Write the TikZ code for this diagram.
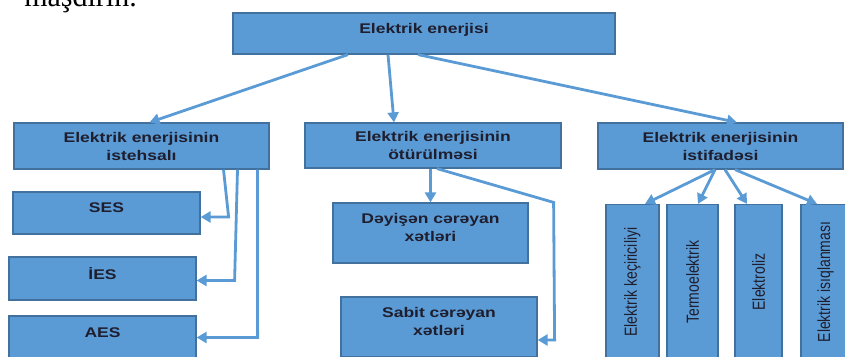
\documentclass[tikz,border=0pt]{standalone}
\usepackage{graphicx}
\usepackage{fontspec}
\setmainfont{Liberation Sans}[FakeStretch=1.25]
\newfontfamily\plainsans{Liberation Sans}
\newfontfamily\pageserif{Liberation Serif}
\usetikzlibrary{arrows.meta,positioning,calc}
\definecolor{boxblue}{HTML}{5B9BD5}
\definecolor{boxedge}{HTML}{41719C}
\definecolor{arrblue}{HTML}{5B9BD5}
\definecolor{txt}{HTML}{1E1E2E}
\tikzset{
    %Define standard arrow tip
    >={Triangle[length=10pt,width=11pt]},
    %Define style for boxes
    box/.style={
           rectangle,
           fill=boxblue,
           draw=boxedge, line width=1.2pt,
           text=txt,
           font=\fontsize{14}{18}\selectfont\bfseries,
           align=center,
           inner sep=0pt},
    smallbox/.style={
           box,
           minimum width=187pt,
           minimum height=43pt,
           text depth=10pt},
    linebox/.style={
           box,
           minimum width=196pt,
           minimum height=60pt,
           text depth=11pt},
    vbox/.style={
           box,
           rotate=90,
           minimum width=155pt,
           font=\plainsans\fontsize{14}{18}\selectfont},
    % Define arrow style
    arr/.style={
           ->,
           draw=arrblue,
           line width=2.8pt},
}

\begin{document}
\begin{tikzpicture}[x=1pt,y=-1pt]
  \useasboundingbox (0,0) rectangle (845,356);
  \clip (0,0) rectangle (845,356);

  % page text cut off at the top
  \node[anchor=base east, inner sep=0pt, text=black,
        font=\pageserif\fontsize{30}{32}\selectfont] (qeyd) at (137,6) {maşdırın.};

  % top level
  \node[box, minimum width=382pt, minimum height=41pt, text depth=11pt] (enerji) at (424,33.5) {Elektrik enerjisi};

  % second level
  \node[box, minimum width=255pt, minimum height=46pt] (istehsal) at (141.5,146) {Elektrik enerjisinin\\istehsalı};
  \node[box, minimum width=256pt, minimum height=45pt] (oturulme) at (433,145.5) {Elektrik enerjisinin\\ötürülməsi};
  \node[box, minimum width=245pt, minimum height=46pt] (istifade) at (720.5,146) {Elektrik enerjisinin\\istifadəsi};

  % production
  \node[smallbox, minimum height=42pt] (ses) at (106.5,213) {SES};
  \node[smallbox] (ies) at (102.5,278.5) {İES};
  \node[smallbox] (aes) at (102.5,337.5) {AES};

  % transmission
  \node[linebox, minimum width=195pt] (deyisen) at (430.5,233) {Dəyişən cərəyan\\xətləri};
  \node[linebox] (sabit) at (439,327) {Sabit cərəyan\\xətləri};

  % use
  \node[vbox, minimum height=53pt] (kecir) at (632.5,282) {\scalebox{1}[1.25]{Elektrik keçiriciliyi}};
  \node[vbox, minimum height=51pt] (termo) at (692.5,282) {\scalebox{1}[1.25]{Termoelektrik}};
  \node[vbox, minimum height=47pt] (elektroliz) at (758.5,282) {\scalebox{1}[1.25]{Elektroliz}};
  \node[vbox, minimum height=49pt] (isiq) at (825.5,282) {\scalebox{1}[1.25]{Elektrik isıqlanması}};

  % from the top box
  \draw[arr] ([xshift=-76pt]enerji.south) -- ([xshift=8pt]istehsal.north);
  \draw[arr] ([xshift=-36pt]enerji.south) -- ([xshift=-39pt]oturulme.north);
  \draw[arr] ([xshift=-6pt]enerji.south) -- ([xshift=16.5pt]istifade.north);

  % production arrows
  \draw[arr] ([xshift=82pt]istehsal.south) -- ([xshift=28pt,yshift=-4pt]ses.east) -- ([yshift=-4pt]ses.east);
  \draw[arr] ([xshift=96pt]istehsal.south) -- ([xshift=38pt,yshift=-2pt]ies.east) -- ([yshift=-2pt]ies.east);
  \draw[arr] ([xshift=116pt]istehsal.south) -- ([xshift=61pt]aes.east) -- (aes.east);

  % transmission arrows
  \draw[arr] (oturulme.south -| deyisen.north) -- (deyisen.north);
  \draw[arr] ([xshift=4pt]oturulme.south) -- ([xshift=25pt]deyisen.north east)
    -- ([xshift=17pt,yshift=-13pt]sabit.east) -- ([yshift=-13pt]sabit.east);

  % use arrows
  \draw[arr] ([xshift=-5.5pt]istifade.south) -- ([xshift=12.5pt]kecir.east);
  \draw[arr] ([xshift=-5.5pt]istifade.south) -- ([xshift=5.5pt]termo.east);
  \draw[arr] ([xshift=4.5pt]istifade.south) -- ([xshift=-11.5pt]elektroliz.east);
  \draw[arr] ([xshift=14.5pt]istifade.south) -- ([xshift=-8.5pt]isiq.east);
\end{tikzpicture}
\end{document}
